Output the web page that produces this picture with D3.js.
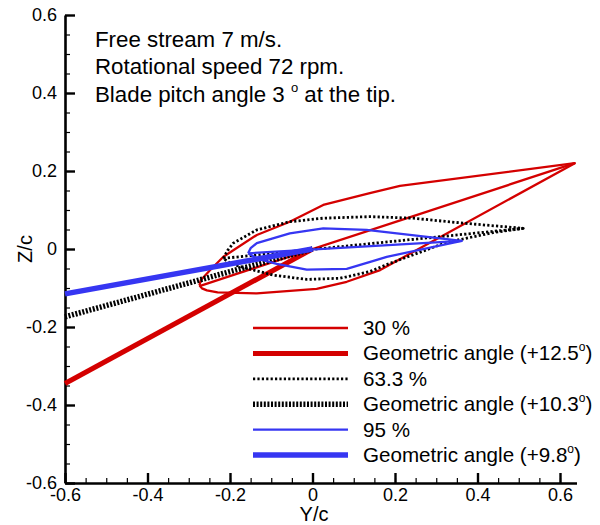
<!DOCTYPE html>
<html>
<head>
<meta charset="utf-8">
<script src="https://cdn.jsdelivr.net/npm/d3@7"></script>
<style>
  html, body { margin: 0; padding: 0; background: #fff; }
  svg { display: block; font-family: "Liberation Sans", Arial, Helvetica, sans-serif; }
</style>
</head>
<body>
<svg id="chart" width="600" height="525"></svg>
<script>
// Section outlines (Y/c, Z/c) at three span stations, chord lines and geometric-angle lines
const sec30Upper = [[-0.274,-0.093],[-0.271,-0.080],[-0.248,-0.054],[-0.216,-0.020],[-0.135,0.036],[-0.055,0.070],[0.026,0.113],[0.139,0.143],[0.212,0.162],[0.636,0.220]];
const sec30Lower = [[-0.274,-0.093],[-0.268,-0.101],[-0.256,-0.106],[-0.230,-0.111],[-0.135,-0.114],[0.010,-0.102],[0.083,-0.084],[0.164,-0.054],[0.636,0.220]];
const sec30Chord = [[-0.274,-0.095],[0.636,0.220]];
const geom30 = [[-0.6,-0.345],[0,0]];

const sec63Upper = [[-0.216,-0.024],[-0.206,-0.004],[-0.192,0.015],[-0.135,0.049],[-0.055,0.070],[0.026,0.079],[0.139,0.083],[0.244,0.079],[0.358,0.067],[0.511,0.053]];
const sec63Lower = [[-0.216,-0.024],[-0.200,-0.036],[-0.176,-0.045],[-0.095,-0.067],[-0.014,-0.078],[0.067,-0.075],[0.139,-0.058],[0.180,-0.040],[0.325,0.017],[0.438,0.042],[0.511,0.053]];
const sec63Chord = [[-0.216,-0.024],[0.511,0.053]];
const geom63 = [[-0.6,-0.174],[0,0]];

const sec95Upper = [[-0.156,-0.011],[-0.150,0.002],[-0.135,0.015],[-0.055,0.040],[0.026,0.053],[0.131,0.049],[0.362,0.021]];
const sec95Lower = [[-0.156,-0.011],[-0.135,-0.024],[-0.087,-0.038],[-0.014,-0.053],[0.083,-0.051],[0.150,-0.030],[0.180,-0.020],[0.362,0.021]];
const sec95Chord = [[-0.156,-0.011],[0.362,0.021]];
const geom95 = [[-0.6,-0.115],[0,0]];

const xTicks = [-0.6, -0.4, -0.2, 0, 0.2, 0.4, 0.6];
const yTicks = [-0.6, -0.4, -0.2, 0, 0.2, 0.4, 0.6];
const minorStep = 0.05;

const legendLabels = ["30 %", "Geometric angle (+12.5", "63.3 %", "Geometric angle (+10.3", "95 %", "Geometric angle (+9.8"];
const noteLines = ["Free stream 7 m/s.", "Rotational speed 72 rpm.", "Blade pitch angle 3 "];

const RED = "#d40000", BLUE = "#3636f2", BLACK = "#000";

const svg = d3.select("#chart");
const x = d3.scaleLinear().domain([-0.6, 0.64]).range([65, 576.5]);
const y = d3.scaleLinear().domain([-0.6, 0.6]).range([483, 15]);

const fmt = d => d === 0 ? "0" : d.toFixed(1);
const minorX = d3.range(-0.6, 0.6001, minorStep).map(v => +v.toFixed(2));
const minorY = d3.range(-0.6, 0.6001, minorStep).map(v => +v.toFixed(2));

// minor ticks
svg.append("g").attr("transform", "translate(0,483)")
  .call(d3.axisBottom(x).tickValues(minorX).tickSize(-5).tickFormat(""))
  .call(g => g.select(".domain").remove())
  .call(g => g.selectAll("line").attr("stroke-width", 1.2));
svg.append("g").attr("transform", "translate(65,0)")
  .call(d3.axisLeft(y).tickValues(minorY).tickSize(-5).tickFormat(""))
  .call(g => g.select(".domain").remove())
  .call(g => g.selectAll("line").attr("stroke-width", 1.2));

// major ticks + labels
const xAxis = svg.append("g").attr("transform", "translate(0,483)")
  .call(d3.axisBottom(x).tickValues(xTicks).tickSize(-10).tickSizeOuter(0).tickPadding(5).tickFormat(fmt));
const yAxis = svg.append("g").attr("transform", "translate(65,0)")
  .call(d3.axisLeft(y).tickValues(yTicks).tickSize(-10).tickSizeOuter(0).tickPadding(8).tickFormat(fmt));
[xAxis, yAxis].forEach(g => {
  g.select(".domain").attr("stroke-width", 2.6);
  g.selectAll(".tick line").attr("stroke-width", 2.4);
  g.selectAll("text").attr("font-size", 18).attr("fill", "#000")
    .attr("font-family", "'Liberation Sans', Arial, sans-serif");
});

// axis titles
svg.append("text").attr("x", 314).attr("y", 521).attr("text-anchor", "middle")
  .attr("font-size", 20).text("Y/c");
svg.append("text").attr("transform", "translate(32,249) rotate(-90)").attr("text-anchor", "middle")
  .attr("font-size", 20).text("Z/c");

const line = d3.line().x(d => x(d[0])).y(d => y(d[1]));
const outline = (up, lo) => up.concat(lo.slice().reverse());

function draw(pts, color, width, dash) {
  svg.append("path").attr("d", line(pts)).attr("fill", "none")
    .attr("stroke", color).attr("stroke-width", width)
    .attr("stroke-linejoin", "round")
    .attr("stroke-dasharray", dash || null);
}

const THIN_DOT = "2.2,2.2", THICK_DOT = "2,1.6";

draw(outline(sec30Upper, sec30Lower), RED, 2.3);
draw(sec30Chord, RED, 2.3);
draw(geom30, RED, 5);

draw(outline(sec63Upper, sec63Lower), BLACK, 2.8, THIN_DOT);
draw(sec63Chord, BLACK, 2.8, THIN_DOT);
draw(geom63, BLACK, 5.5, THICK_DOT);

draw(outline(sec95Upper, sec95Lower), BLUE, 2.3);
draw(sec95Chord, BLUE, 2.3);
draw(geom95, BLUE, 5.5);

// legend
const legendStyles = [
  {c: RED, w: 2.4}, {c: RED, w: 5}, {c: BLACK, w: 2.8, d: THIN_DOT},
  {c: BLACK, w: 5.5, d: THICK_DOT}, {c: BLUE, w: 2.4}, {c: BLUE, w: 5.5}
];
const legend = svg.append("g");
legendLabels.forEach((lab, i) => {
  const cy = 328 + i * 25.4;
  const s = legendStyles[i];
  legend.append("line").attr("x1", 253).attr("x2", 348).attr("y1", cy).attr("y2", cy)
    .attr("stroke", s.c).attr("stroke-width", s.w).attr("stroke-dasharray", s.d || null);
  const t = legend.append("text").attr("x", 363).attr("y", cy + 7).attr("font-size", 20.6).text(lab);
  if (lab.startsWith("Geometric")) {
    t.append("tspan").attr("dy", -9).attr("font-size", 12).text("o");
    t.append("tspan").attr("dy", 9).text(")");
  }
});

// annotation
const note = svg.append("g");
noteLines.forEach((s, i) => {
  const t = note.append("text").attr("x", 95).attr("y", 47 + i * 27.3).attr("font-size", 22.3).text(s);
  if (i === 2) {
    t.append("tspan").attr("dy", -10).attr("font-size", 13).text("o");
    t.append("tspan").attr("dy", 10).text(" at the tip.");
  }
});
</script>
</body>
</html>
